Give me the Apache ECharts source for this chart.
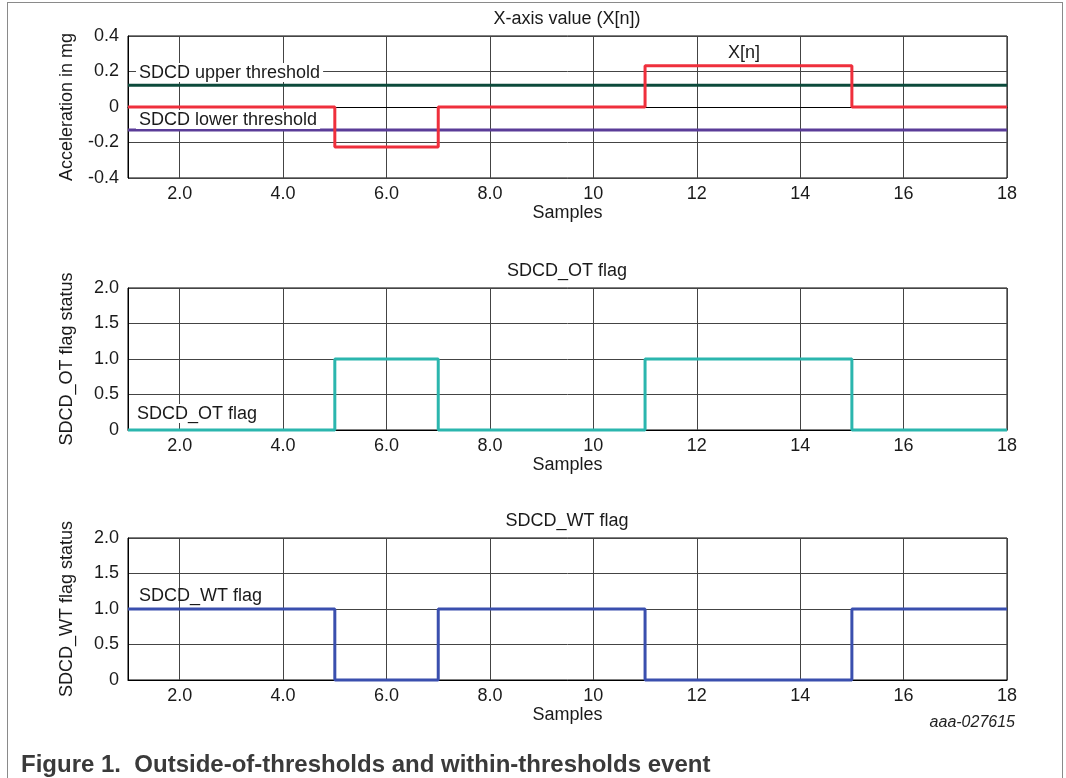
<!DOCTYPE html>
<html>
<head>
<meta charset="utf-8">
<script src="https://cdn.jsdelivr.net/npm/echarts@6/dist/echarts.min.js"></script>
<style>
html,body{margin:0;padding:0;background:#fff;}
#frame{position:absolute;left:7px;top:2px;width:1054px;height:800px;border:1px solid #8a8a8a;border-bottom:none;}
#chart{position:absolute;left:0;top:0;width:1066px;height:778px;}
</style>
</head>
<body>
<div id="frame"></div>
<div id="chart"></div>
<script>
// ---- data ----
const samples = [1,2,3,4,5,6,7,8,9,10,11,12,13,14,15,16,17,18];
const xValues = [0,0,0,0,-0.225,-0.225,0,0,0,0,0.232,0.232,0.232,0.232,0,0,0,0];
const otFlag  = [0,0,0,0,1,1,0,0,0,0,1,1,1,1,0,0,0,0];
const wtFlag  = [1,1,1,1,0,0,1,1,1,1,0,0,0,0,1,1,1,1];
const upperThreshold = 0.123;
const lowerThreshold = -0.13;
const xTicks = [2,4,6,8,10,12,14,16,18];
const accTicks = [-0.4,-0.2,0,0.2,0.4];
const flagTicks = [0,0.5,1,1.5,2];
const titles = ['X-axis value (X[n])','SDCD_OT flag','SDCD_WT flag'];
const yNames = ['Acceleration in mg','SDCD_OT flag status','SDCD_WT flag status'];

const FONT = '"Liberation Sans", Arial, sans-serif';
const FS = 18;
const pair = (xs, ys) => xs.map((x,i)=>[x, ys[i]]);
const gridTops = [36, 288, 538];

const chart = echarts.init(document.getElementById('chart'));

const grids = gridTops.map(t => ({left:128, top:t, width:879, height:142, show:true, borderColor:'#000', borderWidth:1, backgroundColor:'transparent'}));

const xAxes = gridTops.map((t,i) => ({
  type:'value', gridIndex:i, min:1, max:18,
  name:'Samples', nameLocation:'middle', nameGap:24,
  nameTextStyle:{fontFamily:FONT, fontSize:FS, color:'#1a1a1a'},
  axisLine:{show:true, lineStyle:{color:'#000', width:1}},
  axisTick:{show:false, customValues:xTicks},
  axisLabel:{customValues:xTicks, margin:7, fontFamily:FONT, fontSize:FS, color:'#1a1a1a',
    formatter:v => v < 10 ? v.toFixed(1) : String(v)},
  splitLine:{show:true, lineStyle:{color:'#444', width:1}}
}));

const yAxes = gridTops.map((t,i) => {
  const ticks = i === 0 ? accTicks : flagTicks;
  return {
    type:'value', gridIndex:i, min:ticks[0], max:ticks[ticks.length-1], interval:ticks[1]-ticks[0],
    name:yNames[i], nameLocation:'middle', nameGap:52,
    nameTextStyle:{fontFamily:FONT, fontSize:FS, color:'#1a1a1a'},
    axisLine:{show:true, lineStyle:{color:'#000', width:1}},
    axisTick:{show:false},
    axisLabel:{margin:9, fontFamily:FONT, fontSize:FS, color:'#1a1a1a',
      formatter:v => Math.abs(v) < 1e-9 ? '0' : v.toFixed(1)},
    splitLine:{show:true, lineStyle:{color:'#444', width:1}}
  };
});

const stepSeries = (idx, ys, color) => ({
  type:'line', xAxisIndex:idx, yAxisIndex:idx, data:pair(samples, ys), step:'end',
  showSymbol:false, symbol:'none', clip:false, z:5,
  lineStyle:{color:color, width:3}
});
const flatSeries = (value, color) => ({
  type:'line', xAxisIndex:0, yAxisIndex:0,
  data:[[samples[0], value],[samples[samples.length-1], value]],
  showSymbol:false, symbol:'none', z:4, lineStyle:{color:color, width:3}
});

const ts = (extra) => Object.assign({fontFamily:FONT, fontSize:FS, fontWeight:'normal', color:'#1a1a1a'}, extra||{});

const titleList = [
  {text:titles[0], left:567, top:10, padding:0, textAlign:'center', textStyle:ts()},
  {text:titles[1], left:567, top:262, padding:0, textAlign:'center', textStyle:ts()},
  {text:titles[2], left:567, top:512, padding:0, textAlign:'center', textStyle:ts()},
  {text:'X[n]', left:744, top:44, padding:0, textAlign:'center', textStyle:ts()},
  {text:'SDCD upper threshold', left:136, top:63, padding:[1,3,0,3], backgroundColor:'#fff', textStyle:ts({lineHeight:18})},
  {text:'SDCD lower threshold', left:136, top:110, padding:[1,3,0,3], backgroundColor:'#fff', textStyle:ts({lineHeight:18})},
  {text:'SDCD_OT flag', left:134, top:404, padding:[1,3,0,3], backgroundColor:'#fff', textStyle:ts({lineHeight:18})},
  {text:'SDCD_WT flag', left:136, top:586, padding:[1,3,0,3], backgroundColor:'transparent', textStyle:ts({lineHeight:18})},
  {text:'aaa-027615', right:51, top:715, padding:0, textStyle:ts({fontSize:16, fontStyle:'italic', color:'#222'})},
  {text:'Figure 1.  Outside-of-thresholds and within-thresholds event', left:21, top:753, padding:0, textStyle:ts({fontSize:24, fontWeight:'bold', color:'#3a3a3a'})}
];

chart.setOption({
  animation:false,
  backgroundColor:'transparent',
  title:titleList,
  grid:grids,
  xAxis:xAxes,
  yAxis:yAxes,
  series:[
    flatSeries(upperThreshold, '#0c4a3b'),
    flatSeries(lowerThreshold, '#5a3c98'),
    stepSeries(0, xValues, '#ef2f3c'),
    stepSeries(1, otFlag, '#2bb6ae'),
    stepSeries(2, wtFlag, '#3a4fae')
  ]
});
</script>
</body>
</html>
